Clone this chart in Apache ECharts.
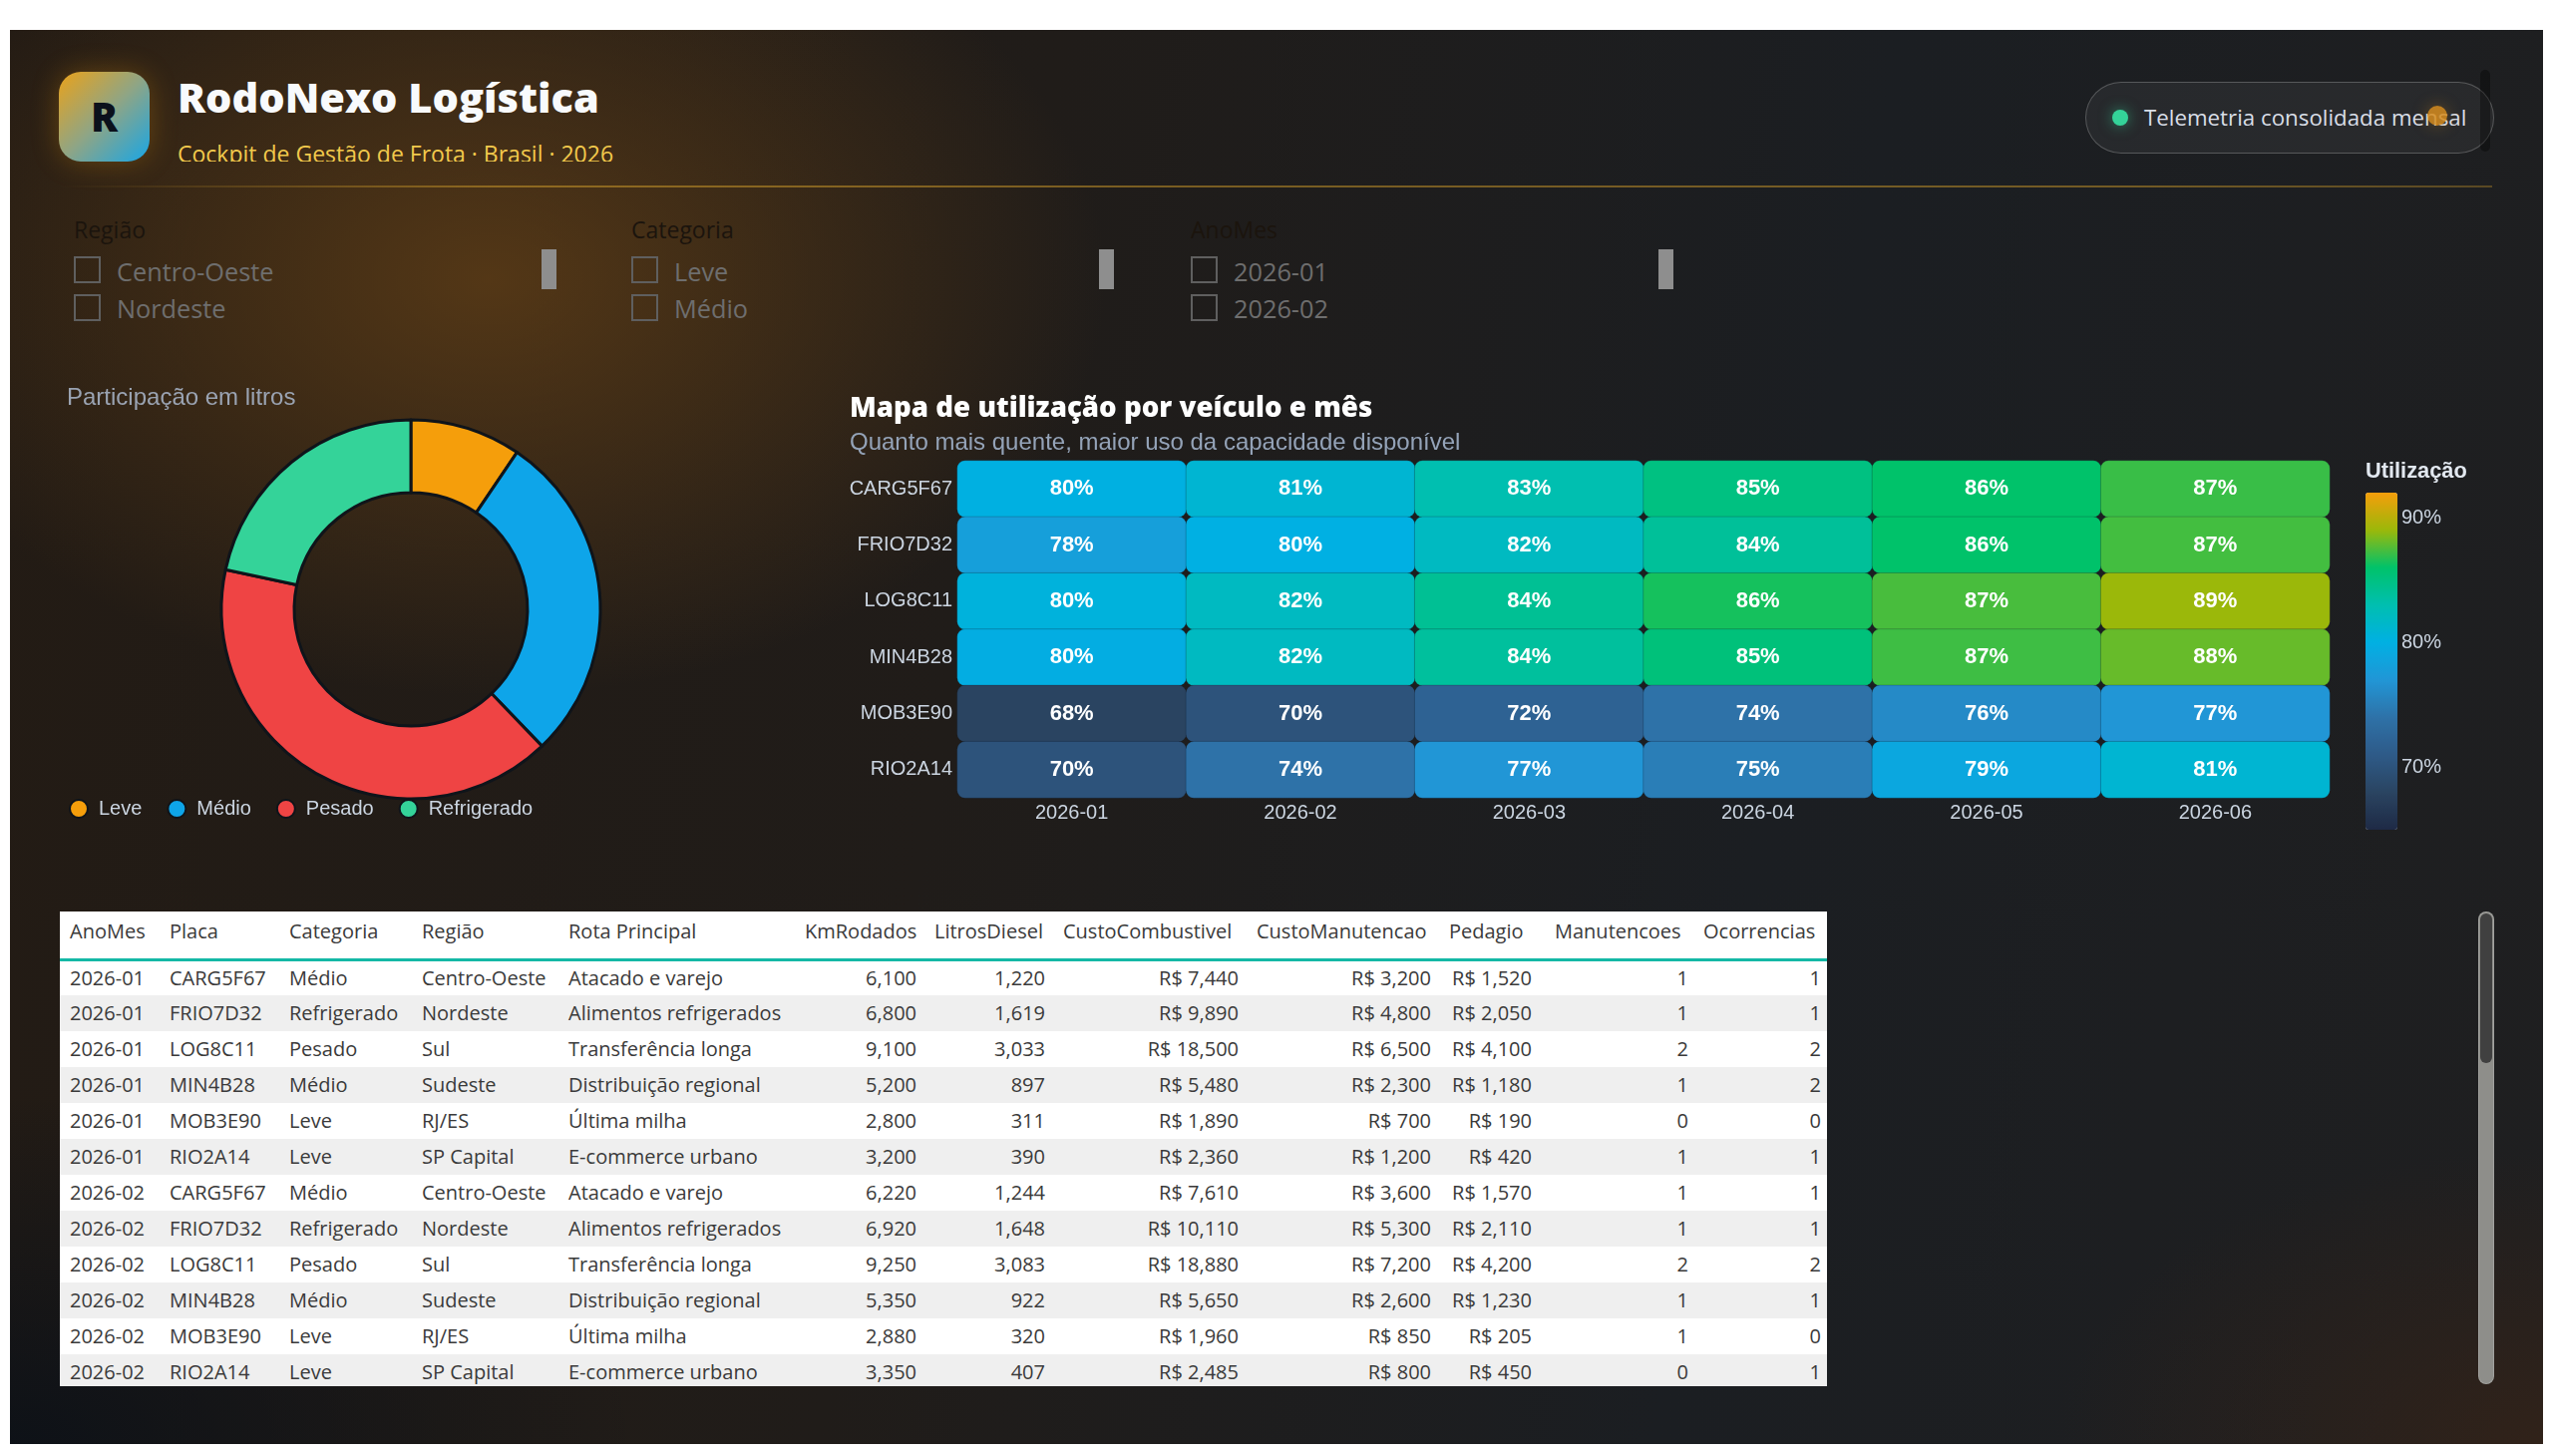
<!DOCTYPE html>
<html lang="pt-BR">
<head>
<meta charset="utf-8">
<title>RodoNexo Logística</title>
<script src="https://cdn.jsdelivr.net/npm/echarts@6/dist/echarts.min.js"></script>
<style>
  html, body { margin: 0; padding: 0; width: 2560px; height: 1460px; overflow: hidden; background: #fff; font-family: 'Open Sans', sans-serif; }
  .abs { position: absolute; }
  #dash {
    left: 10px; top: 30px; width: 2540px; height: 1418px;
    background:
      radial-gradient(ellipse 860px 580px at 480px 250px, rgba(96,62,22,0.8), rgba(96,62,22,0) 72%),
      radial-gradient(ellipse 700px 420px at 2540px 1418px, rgba(58,36,22,0.65), rgba(58,36,22,0) 70%),
      radial-gradient(ellipse 900px 500px at 0px 1418px, rgba(10,16,24,0.85), rgba(10,16,24,0) 70%),
      linear-gradient(100deg, #231b14 0%, #201c19 38%, #1b1e22 68%, #1f1f20 100%);
  }
  #logo {
    left: 59px; top: 72px; width: 91px; height: 90px; border-radius: 22px;
    background: linear-gradient(135deg, #eaa21a 0%, #8fa585 50%, #18a6e6 100%);
    box-shadow: 0 0 28px rgba(245,158,11,0.28);
    color: #0b111c; font-weight: 800; font-size: 40px; line-height: 90px; text-align: center;
  }
  #headtext { left: 178px; top: 72px; width: 700px; height: 90px; overflow: hidden; }
  #title { position: absolute; left: 0; top: 5px; font-size: 41.5px; line-height: 1; font-weight: 800; color: #f8fafc; white-space: nowrap; }
  #subtitle { position: absolute; left: 0; top: 71px; font-size: 23px; line-height: 1; color: #f2c94c; white-space: nowrap; }
  #rule { left: 59px; top: 186px; width: 2440px; height: 2px;
    background: linear-gradient(90deg, rgba(200,150,40,0) 0%, rgba(200,150,40,0.55) 18%, rgba(200,150,40,0.5) 85%, rgba(200,150,40,0.35) 100%); }
  #pill { left: 2091px; top: 82px; width: 408px; height: 70px; border-radius: 36px;
    border: 1.5px solid rgba(255,255,255,0.22); background: rgba(255,255,255,0.05); }
  #dot { left: 2118px; top: 110px; width: 16px; height: 16px; border-radius: 50%; background: #34d399; box-shadow: 0 0 14px rgba(52,211,153,0.55); }
  #pilltext { left: 2150px; top: 107px; font-size: 22.3px; line-height: 1; color: #d9dee7; white-space: nowrap; }
  #odot { left: 2434px; top: 106px; width: 20px; height: 20px; border-radius: 50%; background: rgba(214,140,30,0.85); box-shadow: 0 0 16px rgba(214,140,30,0.35); }
  #vbar { left: 2487px; top: 70px; width: 10px; height: 82px; border-radius: 5px; background: rgba(0,0,0,0.35); }
  .slicer { position: absolute; top: 219px; width: 486px; height: 110px; }
  .slicer .lbl { position: absolute; left: 0; top: 0; font-size: 23px; line-height: 1; color: #1b140d; }
  .slicer .box { position: absolute; left: 0; width: 23px; height: 23px; border: 2px solid #5f5f5f; }
  .slicer .txt { position: absolute; left: 43px; font-size: 25.3px; line-height: 1; color: #6e6e6e; white-space: nowrap; }
  .slicer .sb { position: absolute; left: 469px; top: 31px; width: 15px; height: 40px; background: #8e8e8e; }
  #chart { left: 10px; top: 360px; width: 2540px; height: 500px; }
  #tablewrap { left: 60px; top: 914px; width: 1772px; height: 476px; overflow: hidden; background: #fff; }
  table { border-collapse: collapse; table-layout: fixed; width: 1772px; font-size: 20px; color: #3a3a3a; }
  th { height: 48px; padding: 8px 8px 0 10px; box-sizing: border-box; vertical-align: top; text-align: left; font-weight: 400; line-height: 24px; white-space: nowrap; border-bottom: 3px solid #14b8a6; }
  td { height: 36px; padding: 0 8px 0 10px; box-sizing: border-box; line-height: 24px; white-space: nowrap; }
  td.num { text-align: right; }
  td.c9 { padding-right: 13px; }
  td.c10 { padding-right: 5px; }
  td.c11 { padding-right: 6px; }
  tr.alt td { background: #efefef; }
  #track { left: 2485px; top: 914px; width: 16px; height: 474px; border-radius: 8px; background: #8e8e8a; border: 1px solid rgba(255,255,255,0.18); box-sizing: border-box; }
  #thumb { left: 2487px; top: 916px; width: 12px; height: 150px; border-radius: 7px; background: #404040; }
</style>
</head>
<body>
<div id="dash" class="abs"></div>
<div id="logo" class="abs">R</div>
<div id="headtext" class="abs">
  <div id="title">RodoNexo Logística</div>
  <div id="subtitle">Cockpit de Gestão de Frota · Brasil · 2026</div>
</div>
<div id="rule" class="abs"></div>
<div id="pill" class="abs"></div>
<div id="dot" class="abs"></div>
<div id="pilltext" class="abs">Telemetria consolidada mensal</div>
<div id="odot" class="abs"></div>
<div id="vbar" class="abs"></div>

<div class="slicer" style="left:74px">
  <div class="lbl">Região</div>
  <div class="box" style="top:38px"></div><div class="txt" style="top:41px">Centro-Oeste</div>
  <div class="box" style="top:76px"></div><div class="txt" style="top:78px">Nordeste</div>
  <div class="sb"></div>
</div>
<div class="slicer" style="left:633px">
  <div class="lbl">Categoria</div>
  <div class="box" style="top:38px"></div><div class="txt" style="top:41px">Leve</div>
  <div class="box" style="top:76px"></div><div class="txt" style="top:78px">Médio</div>
  <div class="sb"></div>
</div>
<div class="slicer" style="left:1194px">
  <div class="lbl">AnoMes</div>
  <div class="box" style="top:38px"></div><div class="txt" style="top:41px">2026-01</div>
  <div class="box" style="top:76px"></div><div class="txt" style="top:78px">2026-02</div>
  <div class="sb"></div>
</div>

<div id="chart" class="abs"></div>

<div id="tablewrap" class="abs"><table id="tbl"></table></div>
<div id="track" class="abs"></div>
<div id="thumb" class="abs"></div>

<script>
// tabela (linhas visíveis)
const colunas = ['AnoMes', 'Placa', 'Categoria', 'Região', 'Rota Principal', 'KmRodados', 'LitrosDiesel',
  'CustoCombustivel', 'CustoManutencao', 'Pedagio', 'Manutencoes', 'Ocorrencias'];
const anoMes = ['2026-01', '2026-01', '2026-01', '2026-01', '2026-01', '2026-01',
  '2026-02', '2026-02', '2026-02', '2026-02', '2026-02', '2026-02'];
const placas = ['CARG5F67', 'FRIO7D32', 'LOG8C11', 'MIN4B28', 'MOB3E90', 'RIO2A14',
  'CARG5F67', 'FRIO7D32', 'LOG8C11', 'MIN4B28', 'MOB3E90', 'RIO2A14'];
const categorias = ['Médio', 'Refrigerado', 'Pesado', 'Médio', 'Leve', 'Leve',
  'Médio', 'Refrigerado', 'Pesado', 'Médio', 'Leve', 'Leve'];
const regioes = ['Centro-Oeste', 'Nordeste', 'Sul', 'Sudeste', 'RJ/ES', 'SP Capital',
  'Centro-Oeste', 'Nordeste', 'Sul', 'Sudeste', 'RJ/ES', 'SP Capital'];
const rotas = ['Atacado e varejo', 'Alimentos refrigerados', 'Transferência longa', 'Distribuição regional', 'Última milha', 'E-commerce urbano',
  'Atacado e varejo', 'Alimentos refrigerados', 'Transferência longa', 'Distribuição regional', 'Última milha', 'E-commerce urbano'];
const kmRodados = [6100, 6800, 9100, 5200, 2800, 3200, 6220, 6920, 9250, 5350, 2880, 3350];
const litrosDiesel = [1220, 1619, 3033, 897, 311, 390, 1244, 1648, 3083, 922, 320, 407];
const custoCombustivel = [7440, 9890, 18500, 5480, 1890, 2360, 7610, 10110, 18880, 5650, 1960, 2485];
const custoManutencao = [3200, 4800, 6500, 2300, 700, 1200, 3600, 5300, 7200, 2600, 850, 800];
const pedagio = [1520, 2050, 4100, 1180, 190, 420, 1570, 2110, 4200, 1230, 205, 450];
const manutencoes = [1, 1, 2, 1, 0, 1, 1, 1, 2, 1, 1, 0];
const ocorrencias = [1, 1, 2, 2, 0, 1, 1, 1, 2, 1, 0, 1];

// donut
const categoriasDonut = ['Leve', 'Médio', 'Pesado', 'Refrigerado'];
const coresDonut = ['#f59e0b', '#0ea5e9', '#ef4444', '#34d399'];

// mapa de calor: utilização (%) por veículo e mês
const meses = ['2026-01', '2026-02', '2026-03', '2026-04', '2026-05', '2026-06'];
const veiculos = ['CARG5F67', 'FRIO7D32', 'LOG8C11', 'MIN4B28', 'MOB3E90', 'RIO2A14'];
const utilCARG5F67 = [80.1, 81, 83, 85, 86, 87.1];
const utilFRIO7D32 = [78, 80, 82, 84, 86, 87.3];
const utilLOG8C11 = [80.4, 82, 84.2, 86.4, 87.4, 89];
const utilMIN4B28 = [79.7, 82, 83.8, 85.3, 87.2, 88];
const utilMOB3E90 = [68, 70, 72, 74, 76, 77];
const utilRIO2A14 = [70, 74, 77, 75, 79, 81];
const escalaTicks = [70, 80, 90];

// ---- tabela
const fmt = n => n.toLocaleString('en-US');
const brl = n => 'R$ ' + n.toLocaleString('en-US');
const larguras = [100, 120, 133, 147, 237, 130, 129, 194, 193, 106, 149, 134];
let html = '<colgroup>' + larguras.map(w => `<col style="width:${w}px">`).join('') + '</colgroup>';
html += '<tr>' + colunas.map(c => `<th>${c}</th>`).join('') + '</tr>';
for (let i = 0; i < anoMes.length; i++) {
  const cells = [
    [anoMes[i], ''], [placas[i], ''], [categorias[i], ''], [regioes[i], ''], [rotas[i], ''],
    [fmt(kmRodados[i]), 'num'], [fmt(litrosDiesel[i]), 'num'], [brl(custoCombustivel[i]), 'num'],
    [brl(custoManutencao[i]), 'num'], [brl(pedagio[i]), 'num c9'], [manutencoes[i], 'num c10'], [ocorrencias[i], 'num c11']
  ];
  html += `<tr class="${i % 2 ? 'alt' : ''}">` + cells.map(c => `<td class="${c[1]}">${c[0]}</td>`).join('') + '</tr>';
}
document.getElementById('tbl').innerHTML = html;

// ---- dados para os gráficos
const litrosPorCategoria = categoriasDonut.map(c =>
  litrosDiesel.reduce((s, l, i) => (categorias[i] === c ? s + l : s), 0));
const utilizacao = [utilCARG5F67, utilFRIO7D32, utilLOG8C11, utilMIN4B28, utilMOB3E90, utilRIO2A14];
const heatData = [];
veiculos.forEach((v, i) => utilizacao[i].forEach((u, j) => heatData.push([j, i, u])));

const baseFont = "'Liberation Sans', Arial, sans-serif";
const chart = echarts.init(document.getElementById('chart'));

chart.setOption({
  backgroundColor: 'transparent',
  textStyle: { fontFamily: baseFont },
  animation: false,
  title: [
    { text: 'Participação em litros', left: 57, top: 27, padding: 0,
      textStyle: { fontSize: 24, fontWeight: 'normal', color: '#9aa3b2', fontFamily: baseFont } },
    { text: 'Mapa de utilização por veículo e mês', subtext: 'Quanto mais quente, maior uso da capacidade disponível',
      left: 842, top: 36, padding: 0, itemGap: 8,
      textStyle: { fontSize: 27.7, fontWeight: 800, color: '#ffffff', fontFamily: "'Open Sans', sans-serif" },
      subtextStyle: { fontSize: 24, color: '#94a3b8', fontFamily: baseFont } },
    { text: 'Utilização', left: 2362, top: 102, padding: 0,
      textStyle: { fontSize: 21.8, fontWeight: 'bold', color: '#e2e8f0', fontFamily: baseFont } }
  ],
  legend: {
    data: categoriasDonut, left: 59, top: 441, padding: 0, icon: 'circle',
    itemWidth: 30, itemHeight: 18, itemGap: 25,
    textStyle: { color: '#cbd5e1', fontSize: 20, fontFamily: baseFont }
  },
  grid: [
    { left: 950, top: 102, width: 1376, height: 338 },
    { left: 2362, top: 134, width: 32, height: 338 }
  ],
  xAxis: [
    { type: 'category', gridIndex: 0, data: meses, axisLine: { show: false }, axisTick: { show: false },
      splitLine: { show: false },
      axisLabel: { color: '#cbd5e1', fontSize: 20, margin: 5 } },
    { type: 'value', gridIndex: 1, show: false }
  ],
  yAxis: [
    { type: 'category', gridIndex: 0, data: veiculos, inverse: true, axisLine: { show: false }, axisTick: { show: false },
      splitLine: { show: false },
      axisLabel: { color: '#cbd5e1', fontSize: 20, margin: 5 } },
    { type: 'value', gridIndex: 1, min: 65, max: 92, interval: 5, position: 'right',
      axisLine: { show: false }, axisTick: { show: false }, splitLine: { show: false },
      axisLabel: { color: '#cbd5e1', fontSize: 20, margin: 4,
        formatter: v => (escalaTicks.indexOf(v) >= 0 ? v + '%' : '') } }
  ],
  visualMap: {
    type: 'continuous', seriesIndex: 1, min: 65, max: 92, orient: 'vertical',
    left: 2362, top: 134, padding: 0, itemWidth: 32, itemHeight: 338,
    calculable: false, text: null, showLabel: false,
    inRange: { color: ['#1e2a45', '#2a4461', '#2e5a88', '#2e72a8', '#2196d6', '#00b0e3', '#00bfb0', '#00c26a', '#9bb80a', '#f59e0b'] }
  },
  series: [
    {
      type: 'pie', name: 'Litros', center: [402, 251], radius: [117, 190],
      startAngle: 90, clockwise: true,
      label: { show: false }, labelLine: { show: false },
      itemStyle: { borderColor: '#0f141a', borderWidth: 3 },
      data: categoriasDonut.map((c, i) => ({ name: c, value: litrosPorCategoria[i], itemStyle: { color: coresDonut[i] } }))
    },
    {
      type: 'heatmap', name: 'Utilização', xAxisIndex: 0, yAxisIndex: 0,
      data: heatData,
      label: { show: true, color: '#ffffff', fontSize: 22, fontWeight: 'bold',
        formatter: p => Math.round(p.value[2]) + '%' },
      itemStyle: { borderRadius: 8, borderColor: 'rgba(12,24,36,0.22)', borderWidth: 1 }
    }
  ]
});
</script>
</body>
</html>
